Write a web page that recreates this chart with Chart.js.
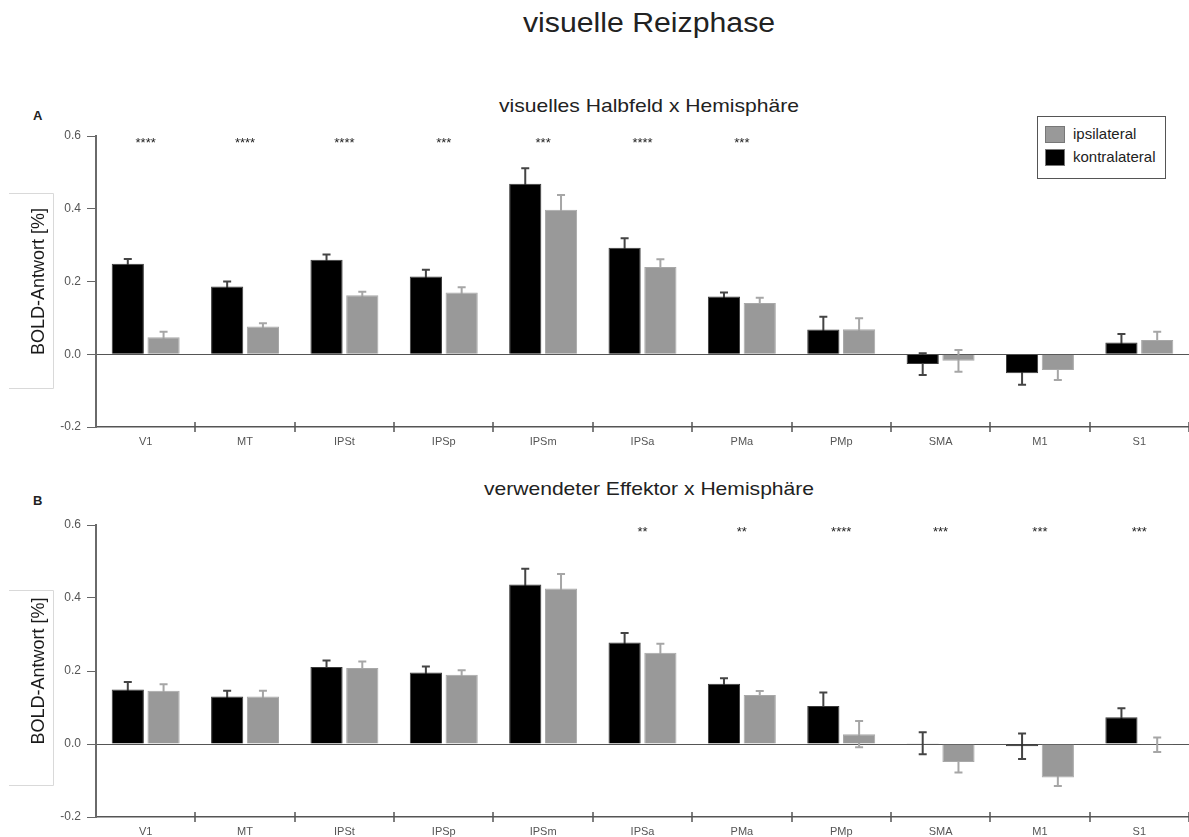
<!DOCTYPE html>
<html>
<head>
<meta charset="utf-8">
<script src="https://cdn.jsdelivr.net/npm/chart.js@4.4.0/dist/chart.umd.min.js"></script>
<style>
  body { margin: 0; background: #fff; width: 1189px; height: 837px; overflow: hidden; position: relative;
         font-family: 'Liberation Sans', Arial, sans-serif; color: #222; }
  .t { position: absolute; white-space: nowrap; line-height: 1; }
  .box { position: absolute; left: 0; width: 1189px; }
  #legend { position: absolute; left: 1037px; top: 116px; width: 127px; height: 61px; border: 1px solid #555;
            background: #fff; font-size: 15px; }
  #legend div { position: absolute; left: 7px; white-space: nowrap; line-height: 1; }
  #legend span { display: inline-block; width: 20px; height: 17px; vertical-align: -4px; margin-right: 8px;
                 box-sizing: border-box; border: 1px solid #777; }
</style>
</head>
<body>
<div class="t" style="left:349px;width:600px;top:10px;text-align:center;font-size:27px;transform:scaleX(1.12)">visuelle Reizphase</div>
<div class="t" style="left:33px;top:109px;font-size:13px;font-weight:bold">A</div>
<div class="t" style="left:349px;width:600px;top:96px;text-align:center;font-size:19px;transform:scaleX(1.11)">visuelles Halbfeld x Hemisphäre</div>
<div class="t" style="left:33px;top:494px;font-size:13px;font-weight:bold">B</div>
<div class="t" style="left:349px;width:600px;top:479px;text-align:center;font-size:19px;transform:scaleX(1.11)">verwendeter Effektor x Hemisphäre</div>

<div class="box" style="top:120px;height:327px"><canvas id="chA"></canvas></div>
<div class="box" style="top:509px;height:328px"><canvas id="chB"></canvas></div>
<div id="legend"></div>

<script>
const regions = ['V1', 'MT', 'IPSt', 'IPSp', 'IPSm', 'IPSa', 'PMa', 'PMp', 'SMA', 'M1', 'S1'];
const seriesNames = ['kontralateral', 'ipsilateral'];
const yTicks = [-0.2, 0, 0.2, 0.4, 0.6];

// A: visuelles Halbfeld x Hemisphäre
const contraA    = [0.249, 0.186, 0.260, 0.214, 0.469, 0.293, 0.159, 0.068, -0.027, -0.052, 0.032];
const contraErrA = [0.013, 0.014, 0.014, 0.018, 0.042, 0.026, 0.011, 0.035, 0.030, 0.032, 0.024];
const ipsiA      = [0.047, 0.076, 0.162, 0.170, 0.397, 0.240, 0.141, 0.069, -0.018, -0.043, 0.039];
const ipsiErrA   = [0.015, 0.009, 0.010, 0.014, 0.041, 0.021, 0.014, 0.030, 0.030, 0.028, 0.023];
const starsA     = ['****', '****', '****', '***', '***', '****', '***', '', '', '', ''];

// B: verwendeter Effektor x Hemisphäre
const contraB    = [0.149, 0.130, 0.211, 0.196, 0.437, 0.278, 0.165, 0.104, 0.002, -0.006, 0.073];
const contraErrB = [0.021, 0.016, 0.018, 0.016, 0.043, 0.026, 0.015, 0.037, 0.030, 0.035, 0.025];
const ipsiB      = [0.146, 0.130, 0.208, 0.190, 0.426, 0.250, 0.134, 0.027, -0.049, -0.092, -0.002];
const ipsiErrB   = [0.018, 0.016, 0.018, 0.012, 0.040, 0.025, 0.011, 0.036, 0.029, 0.023, 0.020];
const starsB     = ['', '', '', '', '', '**', '**', '****', '***', '***', '***'];

const colors = ['#000000', '#999999'];
const font = "'Liberation Sans', Arial, sans-serif";

// error bars (under the bars), stars, crossing x ticks and the frame round the y title
const decor = {
  id: 'decor',
  beforeDatasetsDraw(chart) {
    let ctx = chart.ctx, y = chart.scales.y;
    chart.data.datasets.forEach((ds, di) => {
      chart.getDatasetMeta(di).data.forEach((bar, i) => {
        let v = ds.data[i], e = ds.errors[i];
        let top = y.getPixelForValue(v + e), bot = y.getPixelForValue(v - e);
        ctx.save();
        ctx.strokeStyle = ds.errColor;
        ctx.lineWidth = 2;
        ctx.beginPath();
        ctx.moveTo(bar.x, top); ctx.lineTo(bar.x, bot);
        ctx.moveTo(bar.x - 4, top); ctx.lineTo(bar.x + 4, top);
        ctx.moveTo(bar.x - 4, bot); ctx.lineTo(bar.x + 4, bot);
        ctx.stroke();
        ctx.restore();
      });
    });
  },
  afterDraw(chart, args, opts) {
    let ctx = chart.ctx, x = chart.scales.x, y = chart.scales.y, a = chart.chartArea;
    ctx.save();

    // significance stars
    ctx.fillStyle = '#222';
    ctx.font = '13px ' + font;
    ctx.textAlign = 'center';
    ctx.textBaseline = 'alphabetic';
    opts.stars.forEach((s, i) => {
      if (s) ctx.fillText(s, x.getPixelForValue(i), y.getPixelForValue(0.588) + 7);
    });

    // category ticks crossing the bottom axis
    ctx.strokeStyle = '#555';
    ctx.lineWidth = 1.5;
    ctx.beginPath();
    for (let i = 1; i <= regions.length; i++) {
      let px = Math.round((x.getPixelForValue(i - 1) + x.getPixelForValue(i)) / 2);
      if (i === regions.length) px = Math.round(x.getPixelForValue(i - 1) + (x.getPixelForValue(1) - x.getPixelForValue(0)) / 2);
      ctx.moveTo(px, a.bottom - 5);
      ctx.lineTo(px, a.bottom + 5);
    }
    ctx.stroke();

    // frame round the axis title
    let f = opts.frame;
    ctx.strokeStyle = '#d9d9d9';
    ctx.lineWidth = 1;
    ctx.beginPath();
    ctx.moveTo(9, f.top + 0.5); ctx.lineTo(f.right + 0.5, f.top + 0.5);
    ctx.lineTo(f.right + 0.5, f.bottom + 0.5); ctx.lineTo(9, f.bottom + 0.5);
    ctx.stroke();
    ctx.restore();
  }
};

let makeChart = (id, contra, contraErr, ipsi, ipsiErr, stars, frame) => new Chart(id, {
  type: 'bar',
  data: {
    labels: regions,
    datasets: [{
      label: seriesNames[0],
      data: contra,
      errors: contraErr,
      errColor: '#444',
      backgroundColor: colors[0],
      borderColor: '#3a3a3a',
      borderWidth: 1
    }, {
      label: seriesNames[1],
      data: ipsi,
      errors: ipsiErr,
      errColor: '#a6a6a6',
      backgroundColor: colors[1],
      borderColor: '#a8a8a8',
      borderWidth: 1
    }]
  },
  options: {
    responsive: true,
    maintainAspectRatio: false,
    animation: false,
    categoryPercentage: 0.72,
    barPercentage: 0.9,
    layout: { padding: { top: 16, left: 0, right: 0, bottom: 0 } },
    plugins: {
      legend: { display: false },
      tooltip: { enabled: false },
      decor: { stars: stars, frame: frame }
    },
    scales: {
      x: {
        offset: true,
        grid: { display: false, drawTicks: false },
        border: { display: true, color: '#555', width: 1.5 },
        ticks: { color: '#555', font: { family: font, size: 11 }, padding: 8, maxRotation: 0 },
        afterFit: (s) => { s.height = 20; }
      },
      y: {
        min: yTicks[0],
        max: yTicks[yTicks.length - 1],
        afterBuildTicks: (s) => { s.ticks = yTicks.map(v => ({ value: v })); },
        grid: {
          drawTicks: true,
          tickLength: 9,
          tickColor: '#666',
          tickWidth: 1,
          lineWidth: 1,
          color: (c) => Math.abs(c.tick.value) < 1e-9 ? '#555' : 'rgba(0,0,0,0)'
        },
        border: { display: true, color: '#6a6a6a', width: 2 },
        ticks: { color: '#555', font: { family: font, size: 12 }, padding: 6,
                 callback: (v) => Number(v).toFixed(1) },
        title: { display: true, text: 'BOLD-Antwort [%]', color: '#1a1a1a',
                 font: { family: font, size: 18 }, padding: { top: 28, bottom: 0 } },
        afterFit: (s) => { s.width = 96; }
      }
    }
  },
  plugins: [decor]
});

makeChart('chA', contraA, contraErrA, ipsiA, ipsiErrA, starsA, { top: 73, bottom: 268, right: 53 });
makeChart('chB', contraB, contraErrB, ipsiB, ipsiErrB, starsB, { top: 81, bottom: 276, right: 53 });

// legend lists ipsilateral first, like the original
let legend = document.getElementById('legend');
[[1, 9], [0, 32]].forEach(([k, top]) => {
  let d = document.createElement('div');
  d.style.top = top + 'px';
  d.innerHTML = '<span style="background:' + colors[k] + '"></span>' + seriesNames[k];
  legend.appendChild(d);
});
</script>
</body>
</html>
